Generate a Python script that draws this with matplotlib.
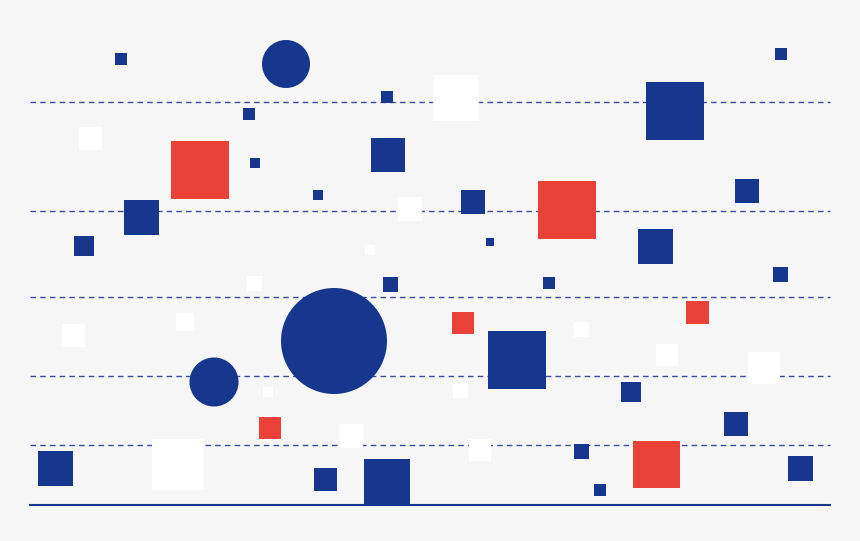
import matplotlib
matplotlib.use("Agg")
import matplotlib.pyplot as plt
from matplotlib.patches import Rectangle, Circle

BLUE = "#17378f"; RED = "#e94037"; WHITE = "#ffffff"; BG = "#f6f6f6"

blue_sq_x = [121,387,249,255,318,388,141,84,473,490,675,781,747,655,780,390,549,517,631,736,581,600,800,55,325,387]
blue_sq_y = [59,97,114,163,195,155,217,246,202,242,111,54,191,246,274,284,283,360,392,424,451,490,468,468,479,482]
blue_sq_s = [12,12,12,10,10,34,35,20,24,8,58,12,24,35,15,15,12,58,20,24,15,12,25,35,23,46]

circ_x = [286,334,214]
circ_y = [64,341,382]
circ_d = [48,106,49]

red_x = [200,567,463,697,270,656]
red_y = [170,210,323,312,428,464]
red_s = [58,58,22,23,22,47]

white_x = [456,90,410,370,254,185,73,581,667,764,460,268,351,480,177]
white_y = [98,138,209,250,283,322,335,329,355,368,390,392,436,450,464]
white_s = [46,23,24,10,15,18,23,15,22,32,15,10,24,22,51]

dash_y = [102,211,297,376,445]
base_y = 505

fig = plt.figure(figsize=(8.6,5.41), dpi=100)
fig.patch.set_facecolor(BG)
ax = fig.add_axes([0,0,1,1])
ax.set_facecolor(BG)
ax.set_xlim(0,860); ax.set_ylim(541,0); ax.axis("off")

for y in dash_y:
    ax.plot([30,830],[y,y], color="#3a4a9e", lw=1, ls=(0,(4,3)), zorder=1)
ax.plot([30,830],[base_y,base_y], color=BLUE, lw=1.5, zorder=1)

def squares(xs, ys, ss, c):
    for x,y,s in zip(xs,ys,ss):
        ax.add_patch(Rectangle((x-s/2,y-s/2), s, s, color=c, lw=0, zorder=2))

squares(white_x, white_y, white_s, WHITE)
squares(blue_sq_x, blue_sq_y, blue_sq_s, BLUE)
squares(red_x, red_y, red_s, RED)
for x,y,d in zip(circ_x,circ_y,circ_d):
    ax.add_patch(Circle((x,y), d/2, color=BLUE, lw=0, zorder=2))

fig.savefig("out.png", dpi=100, facecolor=BG)
